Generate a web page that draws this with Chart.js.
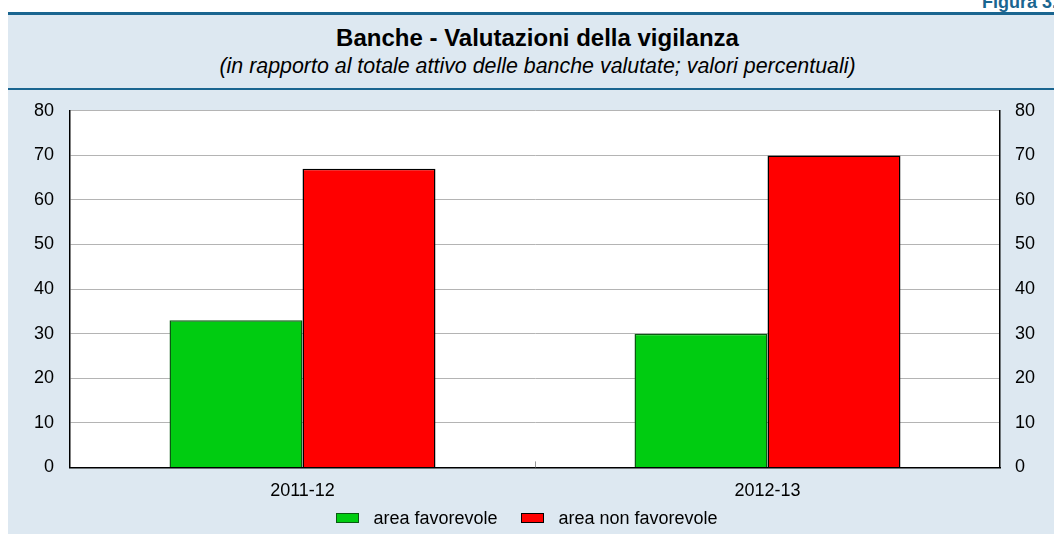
<!DOCTYPE html>
<html>
<head>
<meta charset="utf-8">
<script src="https://cdn.jsdelivr.net/npm/chart.js@4"></script>
<style>
  html, body { margin: 0; padding: 0; background: #fff; overflow: hidden; }
  body { width: 1054px; height: 534px; position: relative; font-family: "Liberation Sans", Arial, sans-serif; }
  #fig { position: absolute; right: -3px; top: -8px; color: #1a6590; font-weight: bold; font-size: 18px; }
  #panel { position: absolute; left: 8px; top: 12px; width: 1059px; height: 522px; background: #dde8f1; border-top: 3px solid #1a6590; }
  #head { position: absolute; left: 0; top: 0; width: 100%; height: 73px; border-bottom: 2px solid #1a6590; text-align: center; }
  #title { font-weight: bold; font-size: 24px; margin-top: 9px; line-height: 28px; color: #000; }
  #sub { font-style: italic; font-size: 21.4px; margin-top: 2px; line-height: 24px; color: #000; }
  #wrap { position: absolute; left: 0; top: 84px; width: 1054px; height: 450px; }
  #legend { position: absolute; left: 0; top: 508px; width: 1054px; text-align: center; font-size: 18px; color: #000; line-height: 20px; }
  #legend span.item { display: inline-block; margin: 0 12px; }
  #legend span.box { display: inline-block; width: 21px; height: 8px; margin-right: 14px; vertical-align: 1px; }
</style>
</head>
<body>
<div id="fig">Figura 3.</div>
<div id="panel">
  <div id="head">
    <div id="title">Banche - Valutazioni della vigilanza</div>
    <div id="sub">(in rapporto al totale attivo delle banche valutate; valori percentuali)</div>
  </div>
</div>
<div id="wrap"><canvas id="chart" width="1054" height="450"></canvas></div>
<div id="legend"></div>
<script>
const categories = ["2011-12", "2012-13"];
const favorevole = [33, 30];
const nonFavorevole = [67, 70];
const yTicks = [0, 10, 20, 30, 40, 50, 60, 70, 80];

// white plot area + small tick between categories
const plotBg = {
  id: "plotBg",
  beforeDraw(chart) {
    const { ctx, chartArea: a } = chart;
    ctx.save();
    ctx.fillStyle = "#fff";
    ctx.fillRect(a.left, a.top, a.right - a.left, a.bottom - a.top);
    ctx.restore();
  },
  afterDatasetsDraw(chart) {
    const { ctx, chartArea: a, scales } = chart;
    const x = Math.round(scales.x.getPixelForValue(0.5)) + 0.5;
    ctx.save();
    ctx.strokeStyle = "#999";
    ctx.lineWidth = 1;
    ctx.beginPath();
    ctx.moveTo(x, a.bottom);
    ctx.lineTo(x, a.bottom - 6);
    ctx.stroke();
    ctx.restore();
  }
};

const yAxis = (pos, w) => ({
  position: pos,
  min: 0,
  max: 80,
  afterBuildTicks: (s) => { s.ticks = yTicks.map(v => ({ value: v })); },
  afterFit: (s) => { s.width = w; },
  grid: { display: pos === "left", color: "#b4b4b4", drawTicks: false },
  border: { display: true, color: "#000", width: 1.5 },
  ticks: { color: "#000", font: { size: 18 }, padding: pos === "left" ? 16 : 15 }
});

const ctx = document.getElementById("chart").getContext("2d");
const myChart = new Chart(ctx, {
  type: "bar",
  data: {
    labels: categories,
    datasets: [
      {
        label: "area favorevole",
        data: favorevole,
        backgroundColor: "#00cc11",
        borderColor: "#0a5a12",
        borderWidth: 1.5
      },
      {
        label: "area non favorevole",
        data: nonFavorevole,
        backgroundColor: "#ff0000",
        borderColor: "#000",
        borderWidth: 1.5
      }
    ]
  },
  options: {
    responsive: false,
    animation: false,
    layout: { padding: { top: 6, bottom: 27 } },
    datasets: { bar: { categoryPercentage: 0.572, barPercentage: 1 } },
    scales: {
      x: {
        grid: { display: false },
        border: { color: "#000", width: 1.5 },
        ticks: { color: "#000", font: { size: 18 }, padding: 5 }
      },
      y: yAxis("left", 70),
      y2: yAxis("right", 54)
    },
    plugins: {
      tooltip: { enabled: false },
      legend: { display: false }
    }
  },
  plugins: [plotBg]
});

// legend built from the chart's datasets
document.getElementById("legend").innerHTML = myChart.data.datasets.map((d, i) =>
  '<span class="item"><span class="box" style="background:' + d.backgroundColor +
  ';border:1.5px solid ' + d.borderColor + '"></span>' + d.label + '</span>'
).join("");
</script>
</body>
</html>
